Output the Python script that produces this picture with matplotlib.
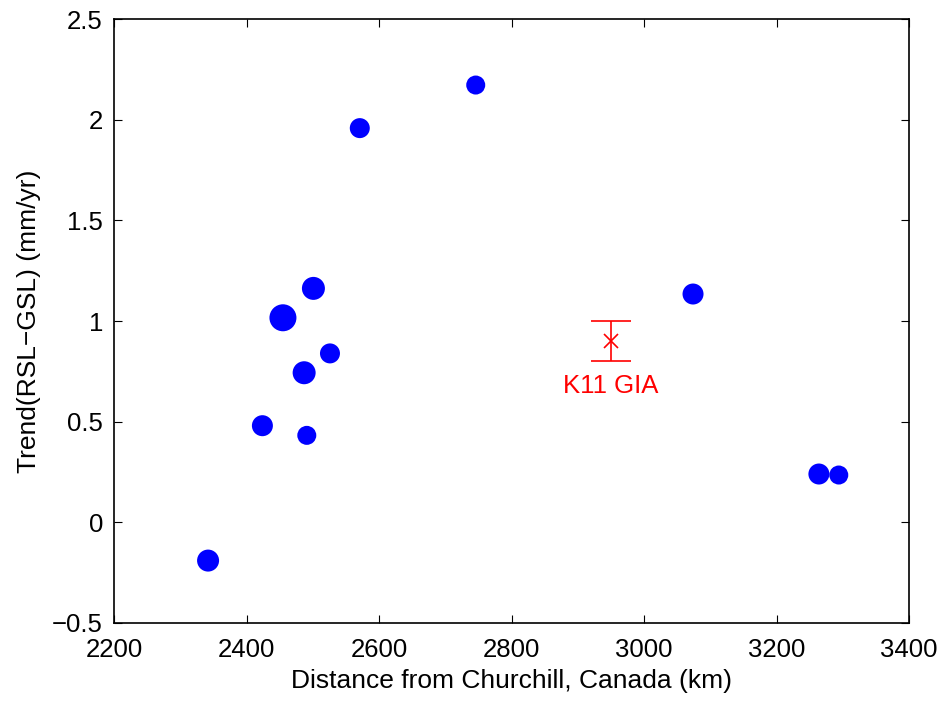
import matplotlib
matplotlib.use('Agg')
import matplotlib.pyplot as plt

plt.rcParams['font.family'] = ['Liberation Sans', 'DejaVu Sans']

# Distance (km), trend (mm/yr) and marker diameter (px) for each station
distance = [2342, 2424, 2455, 2501, 2487, 2526, 2491, 2571, 2746, 3074, 3264, 3294]
trend = [-0.19, 0.48, 1.016, 1.162, 0.743, 0.839, 0.432, 1.958, 2.172, 1.134, 0.240, 0.235]
diam = [22, 21, 27, 23, 23, 20, 19, 20, 19, 21, 21, 19]

# K11 GIA estimate
gia_x = 2950
gia_y = 0.9
gia_err = 0.1

fs = 18.5

fig = plt.figure(figsize=(9.42, 7.05), dpi=100)
ax = fig.add_axes([114 / 942, 1 - 623 / 705, 795 / 942, 604 / 705])

sizes = [(d * 0.72) ** 2 for d in diam]
ax.scatter(distance, trend, s=sizes, c='#0000ff', edgecolors='none', zorder=3)

ax.errorbar([gia_x], [gia_y], yerr=[gia_err], fmt='x', color='#ff0000',
            markersize=10, capsize=14.5, elinewidth=1.2, capthick=1.2, mew=1.2)
ax.text(gia_x, 0.675, 'K11 GIA', color='#ff0000', fontsize=fs,
        ha='center', va='center')

ax.set_xlim(2200, 3400)
ax.set_ylim(-0.5, 2.5)
ax.set_xticks(range(2200, 3401, 200))
ax.set_yticks([-0.5, 0, 0.5, 1, 1.5, 2, 2.5])
ax.set_yticklabels(['\u22120.5', '0', '0.5', '1', '1.5', '2', '2.5'])
ax.tick_params(direction='in', top=True, right=True, labelsize=fs, length=6, width=0.8)
ax.tick_params(axis='x', pad=11)
ax.tick_params(axis='y', pad=8)
for sp in ax.spines.values():
    sp.set_linewidth(1.2)

ax.set_xlabel('Distance from Churchill, Canada (km)', fontsize=19, labelpad=5)
ax.set_ylabel('Trend(RSL\u2212GSL) (mm/yr)', fontsize=19, labelpad=8)

fig.savefig('out.png', dpi=100)
